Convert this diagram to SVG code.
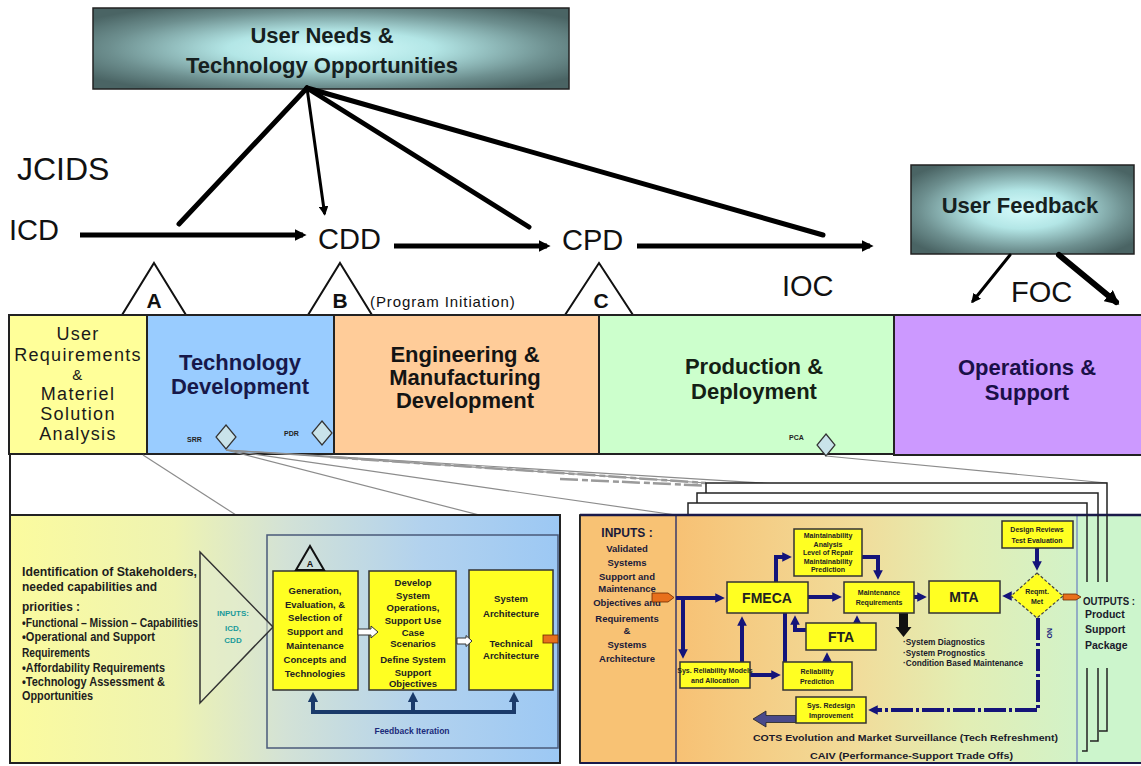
<svg xmlns="http://www.w3.org/2000/svg" width="1141" height="766" viewBox="0 0 1141 766">
<defs>
  <style>
    text { font-family: "Liberation Sans", Arial, sans-serif; }
    .title { font-size: 22px; font-weight: bold; fill: #162020; text-anchor: middle; }
    .big { font-size: 29px; fill: #111; }
    .band { stroke: #222; stroke-width: 2; }
    .phase { font-size: 22px; font-weight: bold; text-anchor: middle; }
    .ms { fill: #fff; stroke: #111; stroke-width: 2; stroke-linejoin: miter; }
    .msl { font-size: 21px; font-weight: bold; fill: #111; text-anchor: middle; }
    .rev { fill: #c9e3ea; stroke: #333; stroke-width: 1.2; }
    .revl { font-size: 7px; font-weight: bold; fill: #222; }
    .lens { stroke: #8c8c8c; stroke-width: 1.2; fill: none; }
    .smudge { stroke: #9a9a9a; stroke-width: 2.5; fill: none; stroke-dasharray: 18 4 6 3; }
    .frame { fill: none; stroke: #222; stroke-width: 1.5; }
    .ybox { fill: #ffff22; stroke: #333; stroke-width: 1.5; }
    .ytxt { font-size: 9.5px; font-weight: bold; fill: #222; text-anchor: middle; }
    .stxt { font-size: 7px; font-weight: bold; fill: #222; text-anchor: middle; }
    .mtxt { font-size: 14px; font-weight: bold; fill: #222; text-anchor: middle; }
    .ltxt { font-size: 12px; font-weight: bold; fill: #1d1d1d; }
    .nav { stroke: #14147a; stroke-width: 4; fill: none; }
    .port { fill: #e8701c; stroke: #6a2a00; stroke-width: 0.8; }
  </style>
  <radialGradient id="glow" cx="50%" cy="50%" r="62%">
    <stop offset="0" stop-color="#d6fcfc"/>
    <stop offset="0.35" stop-color="#b3e6e6"/>
    <stop offset="0.75" stop-color="#6d8f8f"/>
    <stop offset="1" stop-color="#4a6464"/>
  </radialGradient>
  <linearGradient id="leftPanel" x1="0" y1="0" x2="1" y2="0">
    <stop offset="0" stop-color="#fbfb9e"/>
    <stop offset="0.3" stop-color="#eef3b2"/>
    <stop offset="0.5" stop-color="#d3e2d6"/>
    <stop offset="0.75" stop-color="#b2d2ee"/>
    <stop offset="1" stop-color="#9cc8f4"/>
  </linearGradient>
  <linearGradient id="rightPanel" x1="0" y1="0" x2="1" y2="0">
    <stop offset="0" stop-color="#f7c174"/>
    <stop offset="0.45" stop-color="#f1dc9a"/>
    <stop offset="0.72" stop-color="#e2eeb4"/>
    <stop offset="1" stop-color="#d2f2c8"/>
  </linearGradient>
  <marker id="ah" viewBox="0 0 10 10" refX="7" refY="5" markerWidth="2.4" markerHeight="2.4" orient="auto">
    <path d="M0,0 L10,5 L0,10 z" fill="#000"/>
  </marker>
  <marker id="ah3" viewBox="0 0 10 10" refX="7" refY="5" markerWidth="3.2" markerHeight="3.2" orient="auto">
    <path d="M0,0 L10,5 L0,10 z" fill="#000"/>
  </marker>
  <marker id="nh" viewBox="0 0 10 10" refX="6" refY="5" markerWidth="2.4" markerHeight="2.4" orient="auto">
    <path d="M0,0 L10,5 L0,10 z" fill="#14147a"/>
  </marker>
  <marker id="dh" viewBox="0 0 10 10" refX="6" refY="5" markerWidth="2.6" markerHeight="2.6" orient="auto">
    <path d="M0,0 L10,5 L0,10 z" fill="#1a3a6a"/>
  </marker>
</defs>

<rect width="1141" height="766" fill="#fff"/>

<!-- top source box -->
<g id="user-needs">
  <rect x="93" y="8" width="476" height="81" fill="url(#glow)" stroke="#222" stroke-width="1.5"/>
  <text class="title" x="322" y="43">User Needs &amp;</text>
  <text class="title" x="322" y="73">Technology Opportunities</text>
</g>

<g id="user-feedback">
  <rect x="911" y="165" width="223" height="89" fill="url(#glow)" stroke="#222" stroke-width="1.5"/>
  <text class="title" x="1020" y="213">User Feedback</text>
</g>

<!-- JCIDS documents -->
<g id="jcids">
  <text x="17" y="180" font-size="32" fill="#111">JCIDS</text>
</g>
<g id="icd"><text class="big" x="9" y="240">ICD</text></g>
<g id="cdd"><text class="big" x="318" y="249" font-size="28">CDD</text></g>
<g id="cpd"><text class="big" x="562" y="250" font-size="28">CPD</text></g>
<g id="ioc"><text class="big" x="782" y="296" font-size="26">IOC</text></g>
<g id="foc"><text class="big" x="1011" y="302" font-size="26">FOC</text></g>

<!-- milestones -->
<g id="milestone-a">
  <polygon class="ms" points="154,263 186,315 122,315"/>
  <text class="msl" x="154" y="308">A</text>
</g>
<g id="milestone-b">
  <polygon class="ms" points="340,263 372,315 308,315"/>
  <text class="msl" x="340" y="308">B</text>
  <text x="370" y="307" font-size="15" letter-spacing="0.9" fill="#111">(Program Initiation)</text>
</g>
<g id="milestone-c">
  <polygon class="ms" points="599,263 633,315 565,315"/>
  <text class="msl" x="601" y="308" font-size="19">C</text>
</g>

<!-- connectors of the top level -->
<g id="connectors" stroke="#000" fill="none" stroke-linecap="round">
  <line x1="307" y1="88" x2="179" y2="224" stroke-width="5"/>
  <line x1="307" y1="88" x2="324.5" y2="213" stroke-width="3" marker-end="url(#ah3)"/>
  <line x1="307" y1="88" x2="529" y2="227" stroke-width="5"/>
  <line x1="307" y1="88" x2="823" y2="235" stroke-width="5"/>
  <line x1="80" y1="235" x2="303" y2="235" stroke-width="5" stroke-linecap="butt" marker-end="url(#ah)"/>
  <line x1="394" y1="246" x2="547" y2="246" stroke-width="5" stroke-linecap="butt" marker-end="url(#ah)"/>
  <line x1="637" y1="246" x2="870" y2="246" stroke-width="5" stroke-linecap="butt" marker-end="url(#ah)"/>
  <line x1="1010" y1="255" x2="973" y2="301" stroke-width="3" marker-end="url(#ah3)"/>
  <line x1="1059" y1="255" x2="1116" y2="302" stroke-width="6" marker-end="url(#ah)"/>
</g>

<!-- acquisition phases -->
<g id="phase-msa">
  <rect class="band" x="9" y="315" width="138" height="139" fill="#ffff99"/>
  <g font-size="18" letter-spacing="1.3" fill="#1a1a1a" text-anchor="middle">
    <text x="78" y="340">User</text>
    <text x="78" y="361">Requirements</text>
    <text x="78" y="380" font-size="15">&amp;</text>
    <text x="78" y="400">Materiel</text>
    <text x="78" y="420">Solution</text>
    <text x="78" y="440">Analysis</text>
  </g>
</g>
<g id="phase-td">
  <rect class="band" x="147" y="315" width="187" height="139" fill="#99ccff"/>
  <text class="phase" x="240" y="370" font-size="23" fill="#17184a">Technology</text>
  <text class="phase" x="240" y="394" font-size="23" fill="#17184a">Development</text>
  <polygon class="rev" points="226,425 236,437 226,449 216,437"/>
  <text class="revl" x="187" y="442">SRR</text>
  <polygon class="rev" points="322,421 332,433 322,445 312,433"/>
  <text class="revl" x="284" y="436">PDR</text>
</g>
<g id="phase-emd">
  <rect class="band" x="334" y="315" width="265" height="139" fill="#ffcc99"/>
  <text class="phase" x="465" y="362" font-size="20" fill="#141414">Engineering &amp;</text>
  <text class="phase" x="465" y="385" font-size="20" fill="#141414">Manufacturing</text>
  <text class="phase" x="465" y="408" font-size="20" fill="#141414">Development</text>
</g>
<g id="phase-pd">
  <rect class="band" x="599" y="315" width="295" height="139" fill="#ccffcc"/>
  <text class="phase" x="754" y="374" fill="#142014">Production &amp;</text>
  <text class="phase" x="754" y="399" fill="#142014">Deployment</text>
  <polygon class="rev" points="826,434 835,445 826,456 817,445"/>
  <text class="revl" x="789" y="440">PCA</text>
</g>
<g id="phase-os">
  <rect class="band" x="894" y="315" width="250" height="140" fill="#cc99ff"/>
  <text class="phase" x="1027" y="375" fill="#1a1048">Operations &amp;</text>
  <text class="phase" x="1027" y="400" fill="#1a1048">Support</text>
</g>
<line x1="10" y1="454" x2="10" y2="516" stroke="#222" stroke-width="2"/>

<!-- zoom-out guide lines -->
<g id="guides">
  <line class="lens" x1="143" y1="455" x2="267" y2="535"/>
  <line class="lens" x1="226" y1="450" x2="557" y2="535"/>
  <line class="lens" x1="226" y1="450" x2="676" y2="515"/>
  <line class="lens" x1="226" y1="450" x2="706" y2="483"/>
  <line class="lens" x1="226" y1="450" x2="1087" y2="503"/>
  <line class="lens" x1="826" y1="456" x2="1107" y2="483"/>
  <line class="smudge" x1="330" y1="457" x2="706" y2="483"/>
  <line class="smudge" x1="560" y1="479" x2="1087" y2="503"/>
</g>

<!-- stacked frames behind the support panel -->
<g id="frames">
  <rect x="706" y="483" width="401" height="32" fill="#fff"/>
  <path class="frame" d="M706,493 V483 H1107 V515"/>
  <rect x="697" y="493" width="401" height="22" fill="#fff"/>
  <path class="frame" d="M697,503 V493 H1098 V515"/>
  <rect x="688" y="503" width="399" height="12" fill="#fff"/>
  <path class="frame" d="M688,515 V503 H1087 V515"/>
</g>

<!-- technology development detail panel -->
<g id="td-panel">
  <rect x="10" y="515" width="550" height="248" fill="url(#leftPanel)" stroke="#222" stroke-width="2"/>
  <rect x="267" y="535" width="291" height="213" fill="none" stroke="#4a5a7a" stroke-width="1.5"/>
  <g class="ltxt">
    <text x="22" y="576" textLength="175" lengthAdjust="spacingAndGlyphs">Identification of Stakeholders,</text>
    <text x="22" y="591" textLength="135" lengthAdjust="spacingAndGlyphs">needed capabilities and</text>
    <text x="22" y="611" textLength="58" lengthAdjust="spacingAndGlyphs">priorities :</text>
    <text x="22" y="627" textLength="176" lengthAdjust="spacingAndGlyphs">•Functional – Mission – Capabilities</text>
    <text x="22" y="641" textLength="133" lengthAdjust="spacingAndGlyphs">•Operational and Support</text>
    <text x="22" y="657" textLength="68" lengthAdjust="spacingAndGlyphs">Requirements</text>
    <text x="22" y="672" textLength="143" lengthAdjust="spacingAndGlyphs">•Affordability Requirements</text>
    <text x="22" y="686" textLength="143" lengthAdjust="spacingAndGlyphs">•Technology Assessment &amp;</text>
    <text x="22" y="700" textLength="71" lengthAdjust="spacingAndGlyphs">Opportunities</text>
  </g>
</g>

<g id="td-inputs">
  <polygon points="200,552 273,627 200,703" fill="#e4ecd0" fill-opacity="0.55" stroke="#333" stroke-width="1.5"/>
  <g font-size="8" font-weight="bold" fill="#1a9a9a" text-anchor="middle">
    <text x="233" y="616">INPUTS:</text>
    <text x="233" y="631">ICD,</text>
    <text x="233" y="643">CDD</text>
  </g>
</g>

<g id="td-concepts">
  <rect class="ybox" x="273" y="571" width="85" height="119"/>
  <text class="ytxt" x="315" y="594">Generation,</text>
  <text class="ytxt" x="315" y="608">Evaluation, &amp;</text>
  <text class="ytxt" x="315" y="621">Selection of</text>
  <text class="ytxt" x="315" y="635">Support and</text>
  <text class="ytxt" x="315" y="649">Maintenance</text>
  <text class="ytxt" x="315" y="663">Concepts and</text>
  <text class="ytxt" x="315" y="677">Technologies</text>
  <polygon points="310,546 324,570 296,570" fill="none" stroke="#111" stroke-width="2"/>
  <text x="310" y="567" font-size="9" font-weight="bold" text-anchor="middle" fill="#111">A</text>
</g>
<g id="td-operations">
  <rect class="ybox" x="369" y="571" width="87" height="119"/>
  <text class="ytxt" x="413" y="586">Develop</text>
  <text class="ytxt" x="413" y="599">System</text>
  <text class="ytxt" x="413" y="611">Operations,</text>
  <text class="ytxt" x="413" y="624">Support Use</text>
  <text class="ytxt" x="413" y="636">Case</text>
  <text class="ytxt" x="413" y="647">Scenarios</text>
  <text class="ytxt" x="413" y="663">Define System</text>
  <text class="ytxt" x="413" y="676">Support</text>
  <text class="ytxt" x="413" y="687">Objectives</text>
</g>
<g id="td-architecture">
  <rect class="ybox" x="469" y="570" width="84" height="120"/>
  <text class="ytxt" x="511" y="602">System</text>
  <text class="ytxt" x="511" y="617">Architecture</text>
  <text class="ytxt" x="511" y="647">Technical</text>
  <text class="ytxt" x="511" y="659">Architecture</text>
  <rect class="port" x="543" y="635" width="15" height="8"/>
</g>
<g id="td-links">
  <polygon points="358,629 371,629 371,626 378,632 371,638 371,635 358,635" fill="#fff" stroke="#333" stroke-width="1"/>
  <polygon points="457,638 466,638 466,635.5 472,641 466,646.5 466,644 457,644" fill="#fff" stroke="#333" stroke-width="1"/>
  <path d="M313,712 H514" stroke="#1a3a6a" stroke-width="4" fill="none"/>
  <path d="M313,714 V696" stroke="#1a3a6a" stroke-width="4" fill="none" marker-end="url(#dh)"/>
  <path d="M413,714 V696" stroke="#1a3a6a" stroke-width="4" fill="none" marker-end="url(#dh)"/>
  <path d="M514,714 V696" stroke="#1a3a6a" stroke-width="4" fill="none" marker-end="url(#dh)"/>
  <text x="412" y="734" font-size="8.5" font-weight="bold" fill="#1a2a7a" text-anchor="middle">Feedback Iteration</text>
</g>

<!-- operations and support detail panel -->
<g id="os-panel">
  <rect x="580" y="515" width="562" height="248" fill="#ccf5cc" stroke="#222" stroke-width="1.8"/>
  <rect x="580" y="515" width="96" height="248" fill="#f8c274"/>
  <rect x="676" y="515" width="401" height="248" fill="url(#rightPanel)"/>
  <line x1="1077" y1="515" x2="1077" y2="763" stroke="#7f94c2" stroke-width="1.5"/>
  <line x1="676" y1="515" x2="676" y2="763" stroke="#3a3a6a" stroke-width="1.5"/>
  <line x1="580" y1="515" x2="1141" y2="515" stroke="#1a1a4a" stroke-width="2.5"/>
  <line x1="580" y1="763" x2="1141" y2="763" stroke="#1a1a4a" stroke-width="2"/>
  <line x1="580" y1="515" x2="580" y2="763" stroke="#222" stroke-width="1.8"/>
</g>
<g id="frame-edges">
  <path class="frame" d="M1107,515 V582 M1107,668 V731 H1099"/>
  <path class="frame" d="M1098,515 V582 M1098,668 V741 H1090"/>
  <path class="frame" d="M1087,515 V582 M1087,668 V751 H1082"/>
</g>

<g id="os-inputs">
  <g font-weight="bold" fill="#1a1a3a" text-anchor="middle">
    <text x="627" y="537" font-size="12">INPUTS :</text>
    <text x="627" y="552" font-size="9.5">Validated</text>
    <text x="627" y="566" font-size="9.5">Systems</text>
    <text x="627" y="580" font-size="9.5">Support and</text>
    <text x="627" y="592" font-size="9.5">Maintenance</text>
    <text x="627" y="606" font-size="9.5">Objectives and</text>
    <text x="627" y="622" font-size="9.5">Requirements</text>
    <text x="627" y="634" font-size="9.5">&amp;</text>
    <text x="627" y="648" font-size="9.5">Systems</text>
    <text x="627" y="662" font-size="9.5">Architecture</text>
  </g>
  <polygon class="port" points="652,593 668,593 674,597.5 668,602 652,602"/>
</g>

<g id="os-outputs" font-weight="bold" fill="#1a1a2a">
  <text x="1083" y="605" font-size="11" textLength="52" lengthAdjust="spacingAndGlyphs">OUTPUTS :</text>
  <text x="1085" y="618" font-size="10.5">Product</text>
  <text x="1085" y="633" font-size="10.5">Support</text>
  <text x="1085" y="649" font-size="10.5">Package</text>
</g>

<g id="os-links">
  <path class="nav" d="M676,598 H721" marker-end="url(#nh)"/>
  <path class="nav" d="M683,598 V655" marker-end="url(#nh)"/>
  <path class="nav" d="M742,662 V620" marker-end="url(#nh)"/>
  <path class="nav" d="M776,582 V557 H788" marker-end="url(#nh)"/>
  <path class="nav" d="M862,557 H878 V576" marker-end="url(#nh)"/>
  <path class="nav" d="M808,597 H838" marker-end="url(#nh)"/>
  <path class="nav" d="M914,597 H923" marker-end="url(#nh)"/>
  <path class="nav" d="M857,623 V619" marker-end="url(#nh)"/>
  <path class="nav" d="M806,630 H795 V619" marker-end="url(#nh)"/>
  <path class="nav" d="M785,613 V662" stroke-width="3"/>
  <path class="nav" d="M750,675 H777" marker-end="url(#nh)"/>
  <path class="nav" d="M827,662 V656" stroke-width="3.5" marker-end="url(#nh)"/>
  <path class="nav" d="M1037,548 V567" marker-end="url(#nh)"/>
  <path class="nav" d="M1011,596 H1006" marker-end="url(#nh)"/>
  <path class="nav" d="M1038,618 V710 H872" stroke-width="4.5" stroke-dasharray="22 3 3 3" marker-end="url(#nh)"/>
  <path d="M899,603 H908 V627 H911.5 L903.5,637 L895.5,627 H899 Z" fill="#111"/>
  <polygon points="796,715.5 766,715.5 766,711 753,719 766,727 766,722.5 796,722.5" fill="#4a4a8a" stroke="#222" stroke-width="0.8"/>
  <polygon class="port" points="1063,594 1076,594 1081,597 1076,600 1063,600"/>
  <text x="1047" y="628" font-size="7" font-weight="bold" fill="#14147a" transform="rotate(90 1047 628)">NO</text>
</g>

<g id="os-reliability-models">
  <rect class="ybox" x="680" y="662" width="70" height="26"/>
  <text class="stxt" x="715" y="673">Sys. Reliability Models</text>
  <text class="stxt" x="715" y="683">and Allocation</text>
</g>
<g id="os-fmeca">
  <rect class="ybox" x="727" y="582" width="81" height="31"/>
  <text class="mtxt" x="767" y="603">FMECA</text>
</g>
<g id="os-maint-analysis">
  <rect class="ybox" x="794" y="529" width="68" height="47"/>
  <text class="stxt" x="828" y="538">Maintainability</text>
  <text class="stxt" x="828" y="546.5">Analysis</text>
  <text class="stxt" x="828" y="555">Level of Repair</text>
  <text class="stxt" x="828" y="563.5">Maintainability</text>
  <text class="stxt" x="828" y="572">Prediction</text>
</g>
<g id="os-maint-reqs">
  <rect class="ybox" x="844" y="582" width="70" height="31"/>
  <text class="stxt" x="879" y="595">Maintenance</text>
  <text class="stxt" x="879" y="605">Requirements</text>
</g>
<g id="os-fta">
  <rect class="ybox" x="806" y="623" width="70" height="27"/>
  <text class="mtxt" x="841" y="642">FTA</text>
</g>
<g id="os-rel-prediction">
  <rect class="ybox" x="783" y="662" width="69" height="28"/>
  <text class="stxt" x="817" y="674">Reliability</text>
  <text class="stxt" x="817" y="684">Prediction</text>
</g>
<g id="os-mta">
  <rect class="ybox" x="929" y="581" width="71" height="32"/>
  <text class="mtxt" x="964" y="602">MTA</text>
</g>
<g id="os-design-reviews">
  <rect class="ybox" x="1002" y="521" width="71" height="27"/>
  <text class="stxt" x="1037" y="532">Design Reviews</text>
  <text class="stxt" x="1037" y="543">Test Evaluation</text>
</g>
<g id="os-decision">
  <polygon points="1037,573 1063,596 1037,618 1011,596" fill="#ffff22" stroke="#444" stroke-width="1.2" stroke-dasharray="3 2"/>
  <text class="stxt" x="1037" y="594" font-size="7.5">Reqmt.</text>
  <text class="stxt" x="1037" y="604" font-size="7.5">Met</text>
</g>
<g id="os-redesign">
  <rect class="ybox" x="796" y="697" width="70" height="26"/>
  <text class="stxt" x="831" y="708">Sys. Redesign</text>
  <text class="stxt" x="831" y="718">Improvement</text>
</g>
<g id="os-notes" font-weight="bold" fill="#1a1a2a">
  <text x="903" y="645" font-size="8.5" textLength="82" lengthAdjust="spacingAndGlyphs">·System Diagnostics</text>
  <text x="903" y="656" font-size="8.5" textLength="82" lengthAdjust="spacingAndGlyphs">·System Prognostics</text>
  <text x="903" y="666" font-size="8.5" textLength="120" lengthAdjust="spacingAndGlyphs">·Condition Based Maintenance</text>
  <text x="753" y="741" font-size="9" textLength="305" lengthAdjust="spacingAndGlyphs">COTS Evolution and Market Surveillance (Tech Refreshment)</text>
  <text x="810" y="759" font-size="9" textLength="203" lengthAdjust="spacingAndGlyphs">CAIV (Performance-Support Trade Offs)</text>
</g>
</svg>
